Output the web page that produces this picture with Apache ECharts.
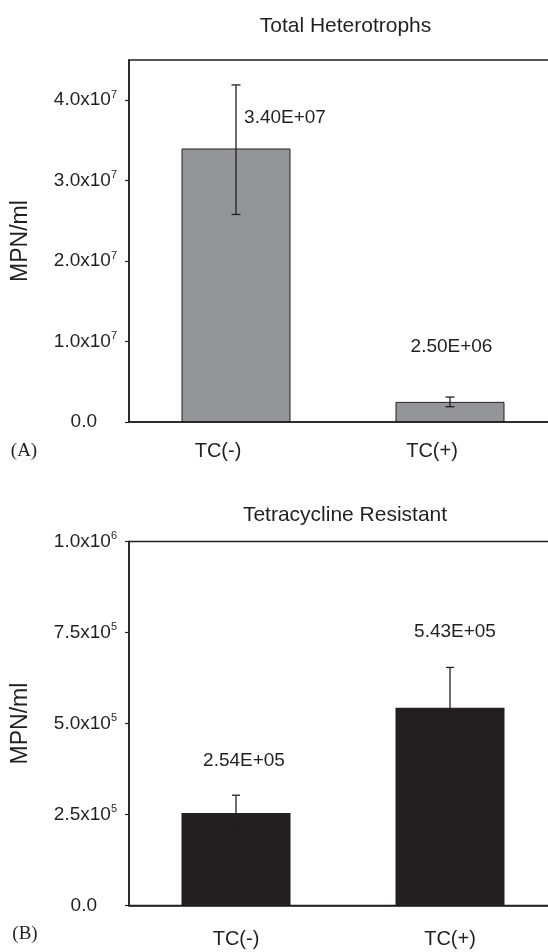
<!DOCTYPE html>
<html>
<head>
<meta charset="utf-8">
<script src="https://cdn.jsdelivr.net/npm/echarts@6/dist/echarts.min.js"></script>
<style>
html,body{margin:0;padding:0;background:#fff;}
#main{width:548px;height:952px;}
</style>
</head>
<body>
<div id="main"></div>
<script>
// ---- data ----
const categories = ['TC(-)', 'TC(+)'];
const heteroValues = [3.40e7, 2.50e6];
const heteroErrLow = [2.58e7, 1.9e6];
const heteroErrHigh = [4.19e7, 3.1e6];
const heteroLabels = ['3.40E+07', '2.50E+06'];
const heteroTicks = [0, 1e7, 2e7, 3e7, 4e7];

const resistValues = [2.54e5, 5.43e5];
const resistErrLow = [2.05e5, 4.32e5];
const resistErrHigh = [3.03e5, 6.54e5];
const resistLabels = ['2.54E+05', '5.43E+05'];
const resistTicks = [0, 2.5e5, 5e5, 7.5e5, 1e6];

// ---- styling ----
const FONT = 'Liberation Sans';
const INK = '#231f20';
const heteroLabelOffsets = [[49, -30.5], [1.5, -55]];
const resistLabelOffsets = [[8, -52], [5, -76]];

function tickFormatter(v) {
  if (v === 0) return '{z|0.0}';
  const e = Math.floor(Math.log10(v) + 1e-9);
  const m = (v / Math.pow(10, e)).toFixed(1);
  return '{m|' + m + 'x10}{s|' + e + '}';
}
const tickRich = {
  m: {fontSize: 19, fontFamily: FONT, color: INK, lineHeight: 22},
  s: {fontSize: 11, fontFamily: FONT, color: INK, lineHeight: 11, verticalAlign: 'top'},
  z: {fontSize: 19, fontFamily: FONT, color: INK, lineHeight: 22, padding: [0, 20, 0, 0]}
};

function errRender(capHalf) {
  return function (params, api) {
    const i = api.value(0);
    const lo = api.coord([i, api.value(1)]);
    const hi = api.coord([i, api.value(2)]);
    const x = lo[0];
    const st = {stroke: INK, lineWidth: 1.3};
    return {
      type: 'group',
      children: [
        {type: 'line', shape: {x1: x, y1: lo[1], x2: x, y2: hi[1]}, style: st},
        {type: 'line', shape: {x1: x - capHalf, y1: lo[1], x2: x + capHalf, y2: lo[1]}, style: st},
        {type: 'line', shape: {x1: x - capHalf, y1: hi[1], x2: x + capHalf, y2: hi[1]}, style: st}
      ]
    };
  };
}

function barData(values, labels, offsets) {
  return values.map((v, i) => ({
    value: v,
    label: {formatter: labels[i], offset: offsets[i]}
  }));
}

function xAxisCfg(gi, margin, padRight) {
  return {
    type: 'category', gridIndex: gi, data: categories,
    axisLine: {lineStyle: {color: INK, width: 1.5}},
    axisTick: {show: false},
    axisLabel: {fontSize: 20, fontFamily: FONT, color: INK, margin: margin, padding: [0, padRight, 0, 0]}
  };
}
function yAxisCfg(gi, max, interval, ticks) {
  return {
    type: 'value', gridIndex: gi, min: 0, max: max, interval: interval,
    splitLine: {show: false},
    axisLine: {show: true, lineStyle: {color: INK, width: 1.5}},
    axisTick: {show: true, length: 4, lineStyle: {color: INK, width: 1.2}, customValues: ticks},
    axisLabel: {margin: 12, formatter: tickFormatter, rich: tickRich, customValues: ticks},
    name: 'MPN/ml', nameLocation: 'middle', nameGap: 97,
    nameTextStyle: {fontSize: 23, fontFamily: FONT, color: INK}
  };
}
const barLabel = {
  show: true, position: 'top', distance: 0, align: 'center', verticalAlign: 'middle',
  fontSize: 19, fontFamily: FONT, color: INK
};

const chart = echarts.init(document.getElementById('main'));
chart.setOption({
  animation: false,
  backgroundColor: '#fff',
  grid: [
    {left: 129, top: 60, width: 428, height: 362, show: true, borderColor: INK, borderWidth: 1.5, outerBoundsMode: 'none', containLabel: false},
    {left: 129, top: 541.5, width: 428, height: 364, show: true, borderColor: INK, borderWidth: 1.5, outerBoundsMode: 'none', containLabel: false}
  ],
  xAxis: [xAxisCfg(0, 19, 36), xAxisCfg(1, 24, 0)],
  yAxis: [yAxisCfg(0, 4.5e7, 1e7, heteroTicks), yAxisCfg(1, 1e6, 2.5e5, resistTicks)],
  graphic: [
    {type: 'text', x: 345.5, y: 26, style: {text: 'Total Heterotrophs', fontSize: 21, fontFamily: FONT, fill: INK, align: 'center', verticalAlign: 'middle'}},
    {type: 'text', x: 345, y: 515, style: {text: 'Tetracycline Resistant', fontSize: 21, fontFamily: FONT, fill: INK, align: 'center', verticalAlign: 'middle'}},
    {type: 'text', x: 24, y: 451, style: {text: '(A)', fontSize: 19, fontFamily: 'Liberation Serif', fill: INK, align: 'center', verticalAlign: 'middle'}},
    {type: 'text', x: 25, y: 934, style: {text: '(B)', fontSize: 19, fontFamily: 'Liberation Serif', fill: INK, align: 'center', verticalAlign: 'middle'}}
  ],
  series: [
    {
      type: 'bar', xAxisIndex: 0, yAxisIndex: 0, barWidth: 109,
      itemStyle: {color: '#939598', borderColor: INK, borderWidth: 1},
      label: barLabel,
      data: barData(heteroValues, heteroLabels, heteroLabelOffsets)
    },
    {
      type: 'custom', xAxisIndex: 0, yAxisIndex: 0, z: 5,
      renderItem: errRender(4.5),
      encode: {x: 0, y: [1, 2]},
      data: categories.map((c, i) => [i, heteroErrLow[i], heteroErrHigh[i]])
    },
    {
      type: 'bar', xAxisIndex: 1, yAxisIndex: 1, barWidth: 109,
      itemStyle: {color: INK},
      label: barLabel,
      data: barData(resistValues, resistLabels, resistLabelOffsets)
    },
    {
      type: 'custom', xAxisIndex: 1, yAxisIndex: 1, z: 5,
      renderItem: errRender(4),
      encode: {x: 0, y: [1, 2]},
      data: categories.map((c, i) => [i, resistErrLow[i], resistErrHigh[i]])
    }
  ]
});
</script>
</body>
</html>
